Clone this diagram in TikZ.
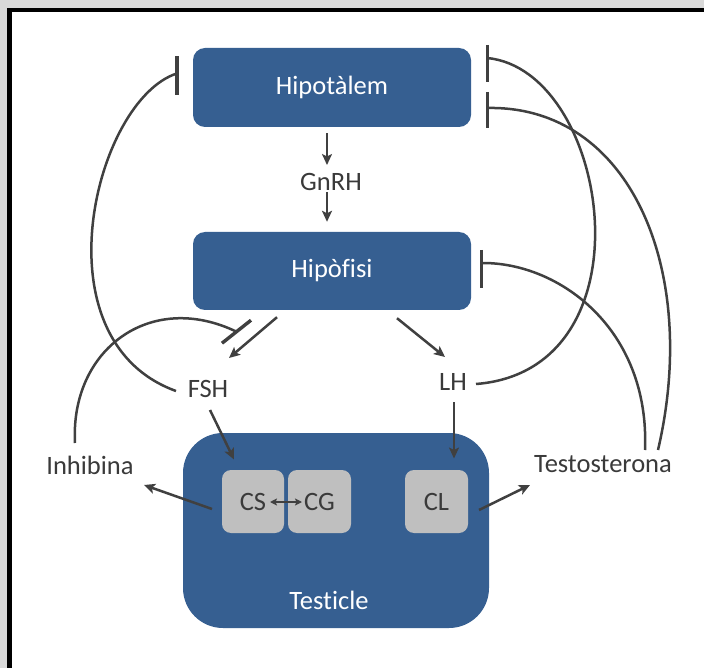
\documentclass[tikz,border=0pt]{standalone}
\usepackage{fontspec}
\setmainfont{Carlito}[Ligatures=NoCommon]
\usetikzlibrary{arrows.meta}
\definecolor{boxblue}{HTML}{365F91}
\definecolor{cellgray}{HTML}{BFBFBF}
\definecolor{lc}{HTML}{404040}
\definecolor{txt}{HTML}{3A3A3A}
\definecolor{bggray}{HTML}{D9D9D9}
\newcommand\labfont{\fontsize{26.5}{31}\selectfont}
\begin{document}
\begin{tikzpicture}[x=1pt,y=-1pt,
  bluebox/.style={fill=boxblue, rounded corners=12pt, text=white, font=\labfont, inner sep=0pt},
  bigbox/.style={fill=boxblue, rounded corners=40pt, inner sep=0pt},
  cellbox/.style={fill=cellgray, rounded corners=9pt, inner sep=0pt, text=txt, font=\labfont, minimum width=63pt, minimum height=63pt},
  lab/.style={text=txt, font=\labfont, inner sep=0pt},
  conn/.style={draw=lc, line width=2.5pt},
  arr/.style={conn, -{Stealth[length=11pt,width=10pt,inset=2.5pt]}},
  darr/.style={draw=lc, line width=2pt, {Stealth[length=7pt,width=7pt,inset=1.5pt]}-{Stealth[length=7pt,width=7pt,inset=1.5pt]}},
  bar/.style={draw=lc, line width=3.4pt}]
\useasboundingbox (0,0) rectangle (704,668);
\fill[bggray] (0,0) rectangle (704,668);
\fill[black] (7,8) rectangle (704,668);
\fill[white] (11.5,12.5) rectangle (704,668);

% boxes
\node[bluebox, minimum width=278pt, minimum height=79pt] (hyp) at (332,87.5) {Hipotàlem};
\node[bluebox, minimum width=278pt, minimum height=78pt] (hipo) at (332,271) {Hipòfisi};
\node[bigbox, minimum width=306pt, minimum height=195pt] (testis) at (336,530.5) {};
\node[text=white, font=\labfont, inner sep=0pt] (testlbl) at (329,600) {Testicle};
\node[cellbox, minimum width=62pt] (cs) at (253,501.5) {CS};
\node[cellbox] (cg) at (319.5,501.5) {CG};
\node[cellbox] (cl) at (436.5,501.5) {CL};

% labels
\node[lab] (gnrh) at (331,182) {GnRH};
\node[lab] (fsh) at (208,389) {FSH};
\node[lab] (lh) at (453,382) {LH};
\node[lab] (inh) at (90,465) {Inhibina};
\node[lab] (tes) at (603,464) {Testosterona};

% straight arrows
\draw[arr] ([shift={(-5,6)}]hyp.south) -- ([shift={(-4,-17)}]gnrh.center);
\draw[arr] ([shift={(-4,10)}]gnrh.center) -- ([shift={(-5,-10)}]hipo.north);
\draw[arr] ([shift={(-55,7)}]hipo.south) -- ([shift={(21,-31)}]fsh.center);
\draw[bar] ([shift={(-81,10)}]hipo.south) -- ([shift={(-110,33)}]hipo.south);
\draw[arr] ([shift={(65,8)}]hipo.south) -- ([shift={(-8,-25)}]lh.center);
\draw[arr] ([shift={(2,21)}]fsh.center) -- ([shift={(-19,-42)}]cs.center);
\draw[arr] ([shift={(1,20)}]lh.center) -- ([shift={(17.5,-43)}]cl.center);
\draw[arr] ([shift={(-41,7.5)}]cs.center) -- ([shift={(54,20)}]inh.center);
\draw[arr] ([shift={(42.5,8.5)}]cl.center) -- ([shift={(-73,21)}]tes.center);
\draw[darr] ([shift={(17,0.5)}]cs.center) -- ([shift={(-17.5,0.5)}]cg.center);

% feedback curves
\draw[conn] ([shift={(-15,-22)}]inh.center) .. controls (70,350) and (150,290) .. ([shift={(-95.5,21.5)}]hipo.south);
\draw[conn] ([shift={(-32,2)}]fsh.center) .. controls (35,340) and (95,100) .. ([shift={(-16,-14)}]hyp.west);
\draw[bar] ([shift={(-16,-31)}]hyp.west) -- ([shift={(-16,8)}]hyp.west);
\draw[conn] ([shift={(16,-29.5)}]hyp.east) .. controls (610,70) and (655,370) .. ([shift={(23,2)}]lh.center);
\draw[bar] ([shift={(16,-42.5)}]hyp.east) -- ([shift={(16,-5.5)}]hyp.east);
\draw[conn] ([shift={(16,20.5)}]hyp.east) .. controls (630,105) and (700,270) .. ([shift={(55,-14)}]tes.center);
\draw[bar] ([shift={(16,4.5)}]hyp.east) -- ([shift={(16,40.5)}]hyp.east);
\draw[conn] ([shift={(10,-8)}]hipo.east) .. controls (560,262) and (650,330) .. ([shift={(42,-14)}]tes.center);
\draw[bar] ([shift={(10,-21)}]hipo.east) -- ([shift={(10,17)}]hipo.east);
\end{tikzpicture}
\end{document}
